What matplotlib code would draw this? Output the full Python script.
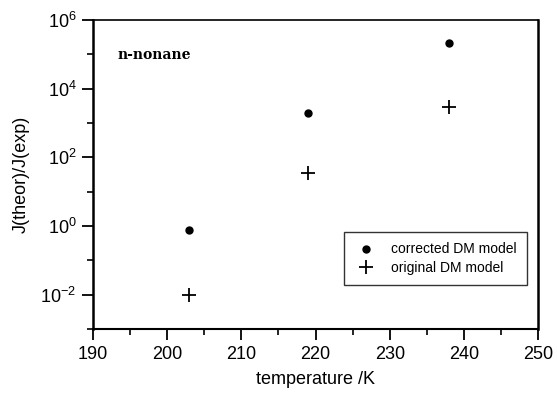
import matplotlib.pyplot as plt
import numpy as np
from matplotlib.ticker import FixedLocator, NullFormatter

plt.rcParams["font.family"] = ["Liberation Sans", "DejaVu Sans"]

temperatura = np.array([203, 219, 238])  # K
J_corrigido = np.array([0.76, 2.0e3, 2.1e5])
J_original = np.array([0.010, 35.0, 2.9e3])

fig = plt.figure(figsize=(5.57, 3.97), dpi=100)
ax = fig.add_axes([0.167, 0.171, 0.799, 0.779])

ax.plot(temperatura, J_corrigido, "o", color="black", markersize=5,
        label="corrected DM model", linestyle="none")
ax.plot(temperatura, J_original, "+", color="black", markersize=10,
        markeredgewidth=1.3, label="original DM model", linestyle="none")

ax.set_yscale("log")
ax.set_xlim(190, 250)
ax.set_ylim(1e-3, 1e6)

ax.set_xticks(np.arange(190, 251, 10))
ax.xaxis.set_minor_locator(FixedLocator(np.arange(195, 250, 10)))
ax.yaxis.set_major_locator(FixedLocator([1e-2, 1e0, 1e2, 1e4, 1e6]))
ax.yaxis.set_minor_locator(FixedLocator([1e-3, 1e-1, 1e1, 1e3, 1e5]))
ax.yaxis.set_minor_formatter(NullFormatter())

ax.tick_params(which="major", direction="out", length=8, width=1.3,
               labelsize=13, pad=4)
ax.tick_params(which="minor", direction="out", length=4, width=1.2)

ax.spines["left"].set_linewidth(1.8)
ax.spines["bottom"].set_linewidth(1.5)
ax.spines["right"].set_linewidth(1.8)
ax.spines["top"].set_linewidth(1.2)

ax.set_xlabel("temperature /K", fontsize=13, labelpad=6)
ax.set_ylabel("J(theor)/J(exp)", fontsize=13, labelpad=8)

ax.text(0.055, 0.875, "n-nonane", transform=ax.transAxes, fontsize=10,
        family="DejaVu Serif", fontweight="bold")

leg = ax.legend(loc="lower right", bbox_to_anchor=(0.99, 0.12), fontsize=10,
                frameon=True, fancybox=False, borderpad=0.75,
                handletextpad=1.0, labelspacing=0.3, handlelength=1.6)
leg.get_frame().set_edgecolor("black")
leg.get_frame().set_linewidth(1.0)

fig.savefig("out.png", dpi=100)
